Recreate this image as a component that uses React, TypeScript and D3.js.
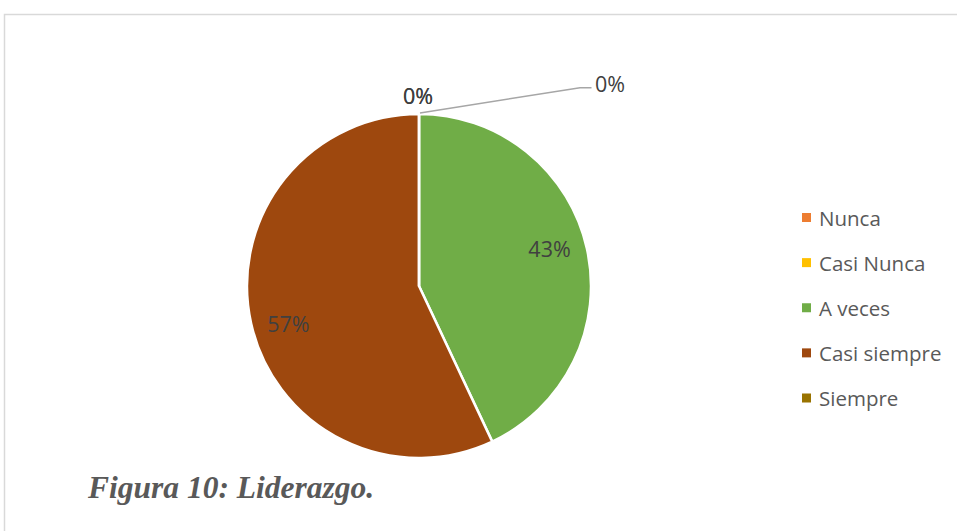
import React from "react";
import * as d3 from "d3";

const categories = ["Nunca", "Casi Nunca", "A veces", "Casi siempre", "Siempre"];
const values = [0, 0, 43, 57, 0];
const colors = ["#ED7D31", "#FFC000", "#70AD47", "#9E480E", "#997300"];
const caption = "Figura 10: Liderazgo.";

const W = 957;
const H = 531;
const cx = 419;
const cy = 286;
const R = 172;

export default function App() {
  const pie = d3.pie<number>().sort(null).value((d) => d);
  const arcs = pie(values);
  const arcGen = d3.arc<d3.PieArcDatum<number>>().innerRadius(0).outerRadius(R);
  const total = d3.sum(values);
  const fmt = (v: number) => `${Math.round((v / total) * 100)}%`;

  const legendY = d3.scalePoint<string>().domain(categories).range([217.5, 398]);

  const labelFont = "'Open Sans', 'Liberation Sans', sans-serif";

  return (
    <svg
      width={W}
      height={H}
      style={{ position: "absolute", left: 0, top: 0, background: "#fff" }}
    >
      <rect x={4.5} y={14.5} width={1200} height={800} fill="#fff" stroke="#d9d9d9" strokeWidth={1.5} />
      <g transform={`translate(${cx},${cy})`}>
        {arcs.map((a, i) => (
          <path key={i} d={arcGen(a) || ""} fill={colors[i]} stroke="#fff" strokeWidth={2.5} strokeLinejoin="round" />
        ))}
        {arcs.map((a, i) => {
          if (a.value === 0) return null;
          const mid = (a.startAngle + a.endAngle) / 2 - (3.5 * Math.PI) / 180;
          const r = R * 0.79;
          const x = r * Math.sin(mid);
          const y = -r * Math.cos(mid);
          return (
            <text
              key={"l" + i}
              x={x}
              y={y}
              textAnchor="middle"
              dominantBaseline="central"
              fontFamily={labelFont}
              fontSize={21.5}
              fill="#404040"
            >
              {fmt(a.value)}
            </text>
          );
        })}
      </g>
      {/* zero labels */}
      {arcs.map((a, i) => {
        if (a.value !== 0) return null;
        const ang = a.startAngle;
        if (i === arcs.length - 1) {
          const sx = cx + (R + 1) * Math.sin(ang) + 1;
          const sy = cy - (R + 1) * Math.cos(ang);
          return (
            <g key={"z" + i}>
              <polyline
                points={`${sx},${sy} ${580},${87.7} ${591.5},${87.7}`}
                fill="none"
                stroke="#a6a6a6"
                strokeWidth={1.5}
              />
              <text x={595} y={83} dominantBaseline="central" fontFamily={labelFont} fontSize={21.5} fill="#404040">
                {fmt(a.value)}
              </text>
            </g>
          );
        }
        return (
          <text
            key={"z" + i}
            x={cx - 1}
            y={95}
            textAnchor="middle"
            dominantBaseline="central"
            fontFamily={labelFont}
            fontSize={21.5}
            fill="#404040"
          >
            {fmt(a.value)}
          </text>
        );
      })}
      {/* legend */}
      {categories.map((c, i) => {
        const y = legendY(c) || 0;
        return (
          <g key={"lg" + i}>
            <rect x={802} y={y - 4.5} width={9} height={9} fill={colors[i]} />
            <text x={819} y={y} dominantBaseline="central" fontFamily={labelFont} fontSize={20.5} fill="#595959">
              {c}
            </text>
          </g>
        );
      })}
      <text
        x={88}
        y={498}
        fontFamily="'Liberation Serif', 'Times New Roman', serif"
        fontStyle="italic"
        fontWeight="bold"
        fontSize={31.5}
        fill="#595959"
      >
        {caption}
      </text>
    </svg>
  );
}
